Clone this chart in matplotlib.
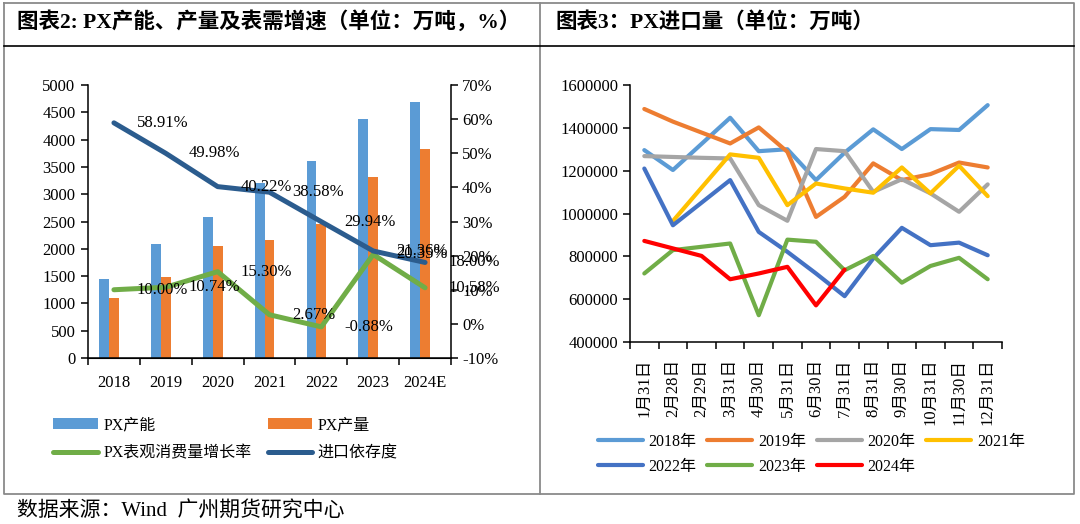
import matplotlib.pyplot as plt
import numpy as np
from matplotlib.lines import Line2D

plt.rcParams['font.family'] = ['Liberation Serif', 'Noto Sans CJK SC']
plt.rcParams['font.size'] = 12

# ---- 图表2 data ----
years = ['2018', '2019', '2020', '2021', '2022', '2023', '2024E']
capacity = [1445, 2085, 2590, 3200, 3600, 4370, 4680]
output = [1090, 1480, 2055, 2165, 2455, 3310, 3830]
growth = [10.00, 10.74, 15.30, 2.67, -0.88, 20.35, 10.58]
import_dep = [58.91, 49.98, 40.22, 38.58, 29.94, 21.36, 18.00]

# ---- 图表3 data ----
months = ['1月31日', '2月28日', '2月29日', '3月31日', '4月30日', '5月31日', '6月30日',
          '7月31日', '8月31日', '9月30日', '10月31日', '11月30日', '12月31日']
y2018 = [1296000, 1203000, None, 1447000, 1291000, 1300000, 1156000, 1284000, 1393000, 1301000, 1394000, 1390000, 1506000]
y2019 = [1488000, 1429000, None, 1327000, 1402000, 1288000, 984000, 1078000, 1234000, 1156000, 1184000, 1238000, 1215000]
y2020 = [1268000, None, 1260000, 1257000, 1039000, 966000, 1301000, 1291000, 1101000, 1160000, 1094000, 1008000, 1136000]
y2021 = [None, 965000, None, 1276000, 1260000, 1039000, 1140000, 1117000, 1097000, 1215000, 1094000, 1223000, 1081000]
y2022 = [1210000, 945000, None, 1156000, 914000, 821000, 720000, 614000, 790000, 933000, 852000, 864000, 805000]
y2023 = [720000, 829000, None, 860000, 525000, 878000, 868000, 735000, 802000, 677000, 755000, 793000, 693000]
y2024 = [872000, None, 802000, 693000, 720000, 751000, 571000, 738000, None, None, None, None, None]
series = [('2018年', y2018, '#5B9BD5'), ('2019年', y2019, '#ED7D31'), ('2020年', y2020, '#A5A5A5'),
          ('2021年', y2021, '#FFC000'), ('2022年', y2022, '#4472C4'), ('2023年', y2023, '#70AD47'),
          ('2024年', y2024, '#FF0000')]

W, H = 1080, 524
fig = plt.figure(figsize=(W / 100, H / 100), dpi=100)


def box(x0, y0, x1, y1):
    return [x0 / W, 1 - y1 / H, (x1 - x0) / W, (y1 - y0) / H]


def fline(xs, ys, color, lw):
    fig.add_artist(Line2D([v / W for v in xs], [1 - v / H for v in ys], color=color, lw=lw,
                          transform=fig.transFigure))


# frame
fline([4, 1074, 1074, 4, 4], [3, 3, 494, 494, 3], '#8a8a8a', 1.3)
fline([540, 540], [3, 494], '#8a8a8a', 1.3)
fline([4, 1074], [46, 46], 'black', 1.2)

fig.text(17 / W, 1 - 22 / H, '图表2: PX产能、产量及表需增速（单位：万吨，%）', fontsize=15.5,
         fontweight='bold', ha='left', va='center')
fig.text(555 / W, 1 - 22 / H, '图表3：PX进口量（单位：万吨）', fontsize=15.5,
         fontweight='bold', ha='left', va='center')
fig.text(17 / W, 1 - 512 / H, '数据来源：Wind  广州期货研究中心', fontsize=15, ha='left', va='center')

# ---------------- left chart ----------------
ax1 = fig.add_axes(box(88, 85, 451, 358))
ax2 = ax1.twinx()
x = np.arange(len(years))
b1 = ax1.bar(x - 0.19, capacity, 0.19, color='#5B9BD5', label='PX产能')
b2 = ax1.bar(x, output, 0.19, color='#ED7D31', label='PX产量')
ax1.set_xlim(-0.5, len(years) - 0.5)
ax1.set_ylim(0, 5000)
ax1.set_yticks(np.arange(0, 5001, 500))
ax1.set_xticks(np.arange(-0.5, len(years)))
ax1.set_xticks(x, labels=years, minor=True)
ax1.tick_params(axis='x', which='major', length=5, width=1.1, labelbottom=False)
ax1.tick_params(axis='x', which='minor', length=0, pad=12)
ax1.tick_params(axis='y', length=5, width=1.1, pad=4)
for s in ['top', 'right']:
    ax1.spines[s].set_visible(False)
for s in ['left', 'bottom']:
    ax1.spines[s].set_linewidth(1.1)

l1, = ax2.plot(x, growth, color='#70AD47', lw=3.6, solid_capstyle='round', solid_joinstyle='round',
               label='PX表观消费量增长率')
l2, = ax2.plot(x, import_dep, color='#2B5C8E', lw=3.6, solid_capstyle='round', solid_joinstyle='round',
               label='进口依存度')
ax2.set_ylim(-10, 70)
ax2.set_yticks(np.arange(-10, 71, 10), labels=[f'{v}%' for v in range(-10, 71, 10)])
ax2.tick_params(axis='y', length=5, width=1.1, pad=3)
for s in ['top', 'left']:
    ax2.spines[s].set_visible(False)
ax2.spines['right'].set_linewidth(1.1)
for vals in (import_dep, growth):
    for xi, v in zip(x, vals):
        ax2.annotate(f'{v:.2f}%', (xi, v), xytext=(16.5, 0), textcoords='offset points',
                     ha='left', va='center', fontsize=12, zorder=5)

# column-major fill: col1 = PX产能 / PX表观..., col2 = PX产量 / 进口依存度
fig.legend([b1, l1, b2, l2], ['PX产能', 'PX表观消费量增长率', 'PX产量', '进口依存度'],
           loc='upper left', bbox_to_anchor=(53 / W, 1 - 417 / H), ncol=2, frameon=False,
           fontsize=11.5, handlelength=2.8, handleheight=0.65, handletextpad=0.35,
           columnspacing=1.0, labelspacing=0.78, borderpad=0, borderaxespad=0)

# ---------------- right chart ----------------
ax3 = fig.add_axes(box(630, 85, 1002, 342))
handles = {}
for name, vals, col in series:
    xs = [i for i, v in enumerate(vals) if v is not None]
    ys = [v for v in vals if v is not None]
    h, = ax3.plot(xs, ys, color=col, lw=3, solid_capstyle='round', solid_joinstyle='round', label=name)
    handles[name] = h
ax3.set_xlim(-0.5, len(months) - 0.5)
ax3.set_ylim(400000, 1600000)
yt = np.arange(400000, 1600001, 200000)
ax3.set_yticks(yt, labels=[str(v) for v in yt])
ax3.set_xticks(np.arange(-0.5, len(months)))
ax3.set_xticks(np.arange(len(months)), labels=months, minor=True, rotation=90)
ax3.tick_params(axis='x', which='major', length=5, width=1.1, labelbottom=False)
ax3.tick_params(axis='x', which='minor', length=0, pad=12)
ax3.tick_params(axis='y', length=5, width=1.1, pad=3.5)
for s in ['top', 'right']:
    ax3.spines[s].set_visible(False)
for s in ['left', 'bottom']:
    ax3.spines[s].set_linewidth(1.1)

order = ['2018年', '2022年', '2019年', '2023年', '2020年', '2024年', '2021年']
fig.legend([handles[k] for k in order], order, loc='upper left', bbox_to_anchor=(598 / W, 1 - 434 / H),
           ncol=4, frameon=False, fontsize=11.5, handlelength=2.8, handletextpad=0.35,
           columnspacing=0.7, labelspacing=0.55, borderpad=0, borderaxespad=0)

fig.savefig('out.png', dpi=100)
